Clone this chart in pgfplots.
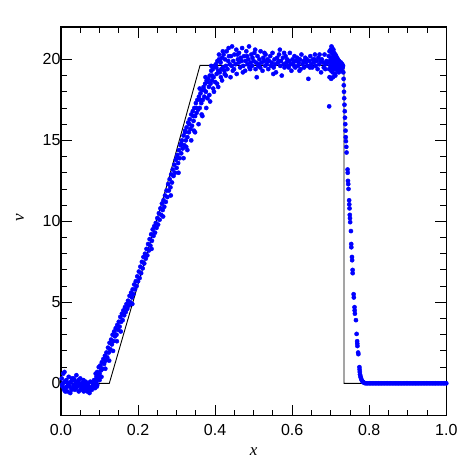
\documentclass[border=0pt]{standalone}
\usepackage{pgfplots}
\pgfplotsset{compat=1.18}
\usepackage{fontspec}
\setmainfont{Liberation Sans}
\newfontfamily\seriffont{Liberation Serif}
\definecolor{ptblue}{RGB}{0,0,255}
\begin{document}
\begin{tikzpicture}
\path[use as bounding box] (0,0) rectangle (472pt,472pt);
\begin{axis}[
 at={(61pt,56.3pt)}, anchor=south west,
 scale only axis, width=385.3pt, height=388.7pt,
 xmin=0, xmax=1, ymin=-2, ymax=22,
 xtick={0,0.2,0.4,0.6,0.8,1}, ytick={0,5,10,15,20},
 minor x tick num=3, minor y tick num=4,
 tick align=inside, major tick length=11pt, minor tick length=6pt,
 xticklabel style={/pgf/number format/fixed, /pgf/number format/fixed zerofill, /pgf/number format/precision=1, yshift=-5pt},
 yticklabel style={xshift=3pt},
 /pgf/number format/assume math mode=true,
 ticklabel style={font=\fontsize{16}{18}\selectfont},
 xlabel={\seriffont\itshape x}, ylabel={\seriffont\itshape v},
 label style={font=\fontsize{17}{19}\selectfont},
 xlabel style={at={(axis description cs:0.5,-0.093)}, anchor=center},
 ylabel style={at={(axis description cs:-0.106,0.51)}, anchor=center},
 axis line style={line width=1.2pt},
 every tick/.style={black, line width=0.9pt},
]
\addplot[black, line width=0.9pt] coordinates {(0,0) (0.1254,0) (0.2777,12.47) (0.3608,19.63) (0.7345,19.63) (0.7345,0) (1,0)};
\addplot[only marks, mark=*, mark size=2.1pt, mark options={draw=ptblue, fill=ptblue}] table {
x y
0.002 0.3
0.004 -0.2
0.006 0.6
0.008 -0.4
0.010 0.1
0.012 -0.3
0.014 0.2
0.016 -0.5
0.018 0.0
0.020 0.4
0.022 -0.2
0.024 -0.6
0.026 0.1
0.028 0.3
0.030 -0.3
0.032 -0.1
0.034 0.2
0.036 -0.4
0.038 0.0
0.040 0.5
0.042 -0.2
0.044 0.1
0.046 -0.5
0.048 -0.1
0.050 0.3
0.052 -0.3
0.054 0.0
0.056 -0.2
0.058 0.2
0.060 -0.4
0.062 -0.1
0.064 0.1
0.066 -0.3
0.068 -0.5
0.070 0.0
0.072 -0.2
0.074 -0.6
0.076 0.1
0.078 -0.3
0.080 -0.4
0.082 0.0
0.084 -0.2
0.086 0.2
0.088 -0.3
0.090 0.1
0.092 0.4
0.094 -0.1
0.096 0.3
0.098 0.6
0.100 0.2
0.003 -0.1
0.009 0.7
0.015 -0.2
0.021 0.0
0.027 -0.4
0.033 0.3
0.039 -0.3
0.045 0.2
0.051 -0.4
0.057 0.0
0.063 -0.3
0.069 -0.1
0.075 -0.4
0.081 -0.2
0.087 0.0
0.093 -0.2
0.005 0.0
0.011 -0.5
0.035 -0.2
0.047 0.0
0.059 -0.5
0.071 -0.3
0.083 0.1
0.088 0.2
0.090 0.6
0.092 0.1
0.094 0.7
0.096 0.4
0.098 1.0
0.100 0.6
0.102 1.1
0.104 0.8
0.106 1.3
0.108 0.9
0.110 1.5
0.112 1.2
0.114 1.7
0.116 1.4
0.118 1.9
0.120 1.6
0.122 2.2
0.124 1.9
0.126 2.5
0.128 2.1
0.130 2.7
0.132 2.4
0.134 3.0
0.136 2.6
0.138 3.2
0.140 2.9
0.142 3.4
0.144 3.0
0.146 3.6
0.148 3.3
0.150 3.8
0.152 3.5
0.154 4.1
0.156 3.8
0.158 4.3
0.160 3.9
0.162 4.5
0.164 4.2
0.166 4.7
0.168 4.4
0.170 4.9
0.172 4.6
0.174 5.1
0.176 4.8
0.178 5.4
0.180 5.0
0.182 5.6
0.184 5.3
0.186 5.8
0.188 5.5
0.190 6.1
0.192 5.8
0.194 6.3
0.196 6.0
0.198 6.6
0.200 6.3
0.202 6.9
0.204 6.5
0.206 7.2
0.208 6.8
0.210 7.5
0.212 7.1
0.214 7.8
0.216 7.4
0.218 8.0
0.220 7.7
0.222 8.3
0.224 7.9
0.226 8.6
0.228 8.2
0.230 8.9
0.232 8.5
0.234 9.2
0.236 8.8
0.238 9.5
0.240 9.1
0.242 9.7
0.244 9.3
0.246 9.9
0.248 9.6
0.250 10.2
0.252 9.8
0.254 10.5
0.256 10.1
0.258 10.8
0.260 10.4
0.262 11.1
0.264 10.7
0.266 11.3
0.268 10.9
0.270 11.6
0.272 11.2
0.274 11.9
0.276 11.5
0.278 12.3
0.280 11.9
0.282 12.6
0.284 12.1
0.286 12.9
0.288 12.4
0.290 13.2
0.292 12.8
0.294 13.5
0.296 13.0
0.298 13.8
0.300 13.3
0.302 14.1
0.304 13.6
0.306 14.4
0.308 13.9
0.310 14.7
0.312 14.2
0.314 15.0
0.316 14.5
0.318 15.3
0.320 14.7
0.322 15.6
0.324 15.0
0.326 15.8
0.328 15.2
0.330 16.1
0.332 15.5
0.334 16.3
0.336 15.7
0.338 16.6
0.340 15.9
0.342 16.8
0.344 16.2
0.346 17.0
0.348 16.5
0.350 17.3
0.352 16.7
0.354 17.5
0.356 16.9
0.358 17.7
0.360 17.0
0.362 17.9
0.364 17.3
0.366 18.1
0.368 17.5
0.370 18.3
0.372 17.7
0.374 18.5
0.376 18.0
0.378 18.7
0.380 17.6
0.382 18.8
0.384 18.3
0.386 19.0
0.388 18.5
0.390 19.3
0.392 18.7
0.394 19.4
0.396 18.9
0.398 19.6
0.400 18.6
0.402 19.7
0.404 19.1
0.406 19.9
0.408 19.3
0.410 20.0
0.412 19.2
0.414 19.8
0.416 19.4
0.418 20.1
0.420 19.5
0.422 20.3
0.424 19.3
0.426 20.0
0.428 19.6
0.430 20.5
0.432 19.4
0.434 19.9
0.436 20.2
0.438 19.7
0.105 0.4
0.115 0.9
0.125 1.4
0.135 2.0
0.145 2.6
0.155 3.2
0.185 4.9
0.235 8.3
0.265 10.3
0.285 11.6
0.325 14.6
0.345 15.6
0.365 16.6
0.385 17.8
0.395 18.2
0.405 18.5
0.415 18.9
0.425 19.1
0.440 18.9
0.360 18.2
0.375 18.9
0.390 19.6
0.410 20.3
0.420 20.5
0.435 20.7
0.300 13.9
0.305 13.0
0.312 14.8
0.318 13.9
0.322 15.5
0.328 14.4
0.333 16.0
0.338 15.0
0.343 16.5
0.348 15.5
0.352 17.0
0.357 16.0
0.362 17.5
0.367 16.5
0.372 18.1
0.377 17.0
0.382 18.6
0.387 17.4
0.392 19.0
0.397 18.0
0.403 19.5
0.408 18.3
0.413 19.9
0.418 18.7
0.428 19.0
0.441 20.2
0.443 19.6
0.444 20.8
0.447 19.9
0.449 19.4
0.450 20.3
0.453 19.7
0.455 20.6
0.456 19.1
0.459 20.0
0.461 19.8
0.462 20.4
0.465 19.5
0.467 20.1
0.469 19.9
0.470 20.7
0.473 19.6
0.475 20.2
0.478 19.3
0.479 19.9
0.481 20.5
0.484 19.7
0.486 20.0
0.488 20.8
0.489 19.5
0.492 19.8
0.494 20.3
0.496 19.6
0.497 20.1
0.500 19.9
0.502 20.4
0.505 19.4
0.506 19.8
0.508 18.9
0.510 20.2
0.513 19.7
0.515 20.0
0.517 19.5
0.518 20.5
0.521 19.8
0.523 19.3
0.525 20.1
0.527 19.9
0.530 19.6
0.531 20.3
0.534 19.7
0.536 20.0
0.538 19.4
0.540 19.9
0.543 20.2
0.545 19.6
0.547 19.8
0.549 20.4
0.552 19.5
0.554 20.0
0.556 19.7
0.558 19.2
0.561 20.1
0.563 19.8
0.566 20.3
0.568 20.6
0.569 19.6
0.571 19.9
0.573 19.0
0.576 20.1
0.578 19.7
0.580 19.5
0.583 20.2
0.585 19.8
0.587 20.0
0.589 19.6
0.592 19.9
0.594 20.4
0.596 19.7
0.598 19.3
0.601 20.0
0.603 19.8
0.606 20.2
0.608 19.5
0.610 19.9
0.613 20.1
0.615 19.6
0.617 19.8
0.620 20.0
0.622 19.4
0.624 20.3
0.627 19.7
0.629 19.9
0.631 19.5
0.634 20.1
0.636 19.8
0.638 20.0
0.640 19.6
0.642 18.8
0.645 19.9
0.647 20.2
0.649 19.7
0.652 19.5
0.654 20.0
0.656 19.8
0.659 20.3
0.661 19.6
0.663 19.9
0.666 19.4
0.668 20.1
0.670 19.7
0.673 19.9
0.675 19.2
0.677 20.0
0.680 19.8
0.682 19.5
0.684 20.3
0.687 19.7
0.689 19.9
0.446 19.3
0.458 20.3
0.472 19.2
0.483 20.2
0.491 19.4
0.504 20.6
0.512 19.6
0.528 20.4
0.537 19.9
0.551 19.1
0.565 19.9
0.579 20.4
0.591 19.5
0.605 19.6
0.619 19.3
0.633 19.9
0.646 19.5
0.658 20.0
0.671 20.3
0.686 19.4
0.693 19.8
0.695 20.2
0.696 19.4
0.697 20.5
0.698 19.9
0.699 19.6
0.700 20.6
0.700 20.1
0.701 19.3
0.702 20.8
0.702 19.8
0.703 20.4
0.703 19.5
0.704 20.7
0.704 20.0
0.705 19.2
0.705 20.5
0.706 19.9
0.706 20.3
0.707 19.6
0.707 20.6
0.708 20.1
0.708 19.4
0.709 20.4
0.709 19.8
0.710 20.2
0.710 19.5
0.711 20.0
0.711 19.1
0.712 20.3
0.712 19.7
0.713 19.9
0.714 20.2
0.714 19.4
0.715 19.8
0.716 20.1
0.716 19.6
0.717 19.3
0.718 19.9
0.719 20.0
0.719 19.5
0.720 19.8
0.721 19.2
0.722 19.9
0.722 19.6
0.723 19.4
0.724 19.8
0.725 19.7
0.726 19.5
0.727 19.8
0.728 19.6
0.729 19.3
0.730 19.7
0.731 19.5
0.732 19.6
0.697 18.9
0.701 18.8
0.706 18.9
0.712 19.0
0.696 17.1
0.7327 19.2
0.7335 18.8
0.7340 18.4
0.7345 18.0
0.7350 17.6
0.7357 17.2
0.7365 16.8
0.7370 16.4
0.7378 16.0
0.7385 15.6
0.7390 15.2
0.7395 14.95
0.7405 14.6
0.7412 14.25
0.7438 13.2
0.7442 13.0
0.7448 12.5
0.7455 12.3
0.7462 12.0
0.7478 11.3
0.7482 11.05
0.7488 10.8
0.7495 10.4
0.7500 10.2
0.7505 9.95
0.7525 9.4
0.7532 8.6
0.7535 8.4
0.7552 7.8
0.7556 7.6
0.7568 7.0
0.7570 6.8
0.7595 5.5
0.7600 5.3
0.7618 4.7
0.7622 4.5
0.7628 4.3
0.7655 3.9
0.7672 3.05
0.7686 2.6
0.7690 2.45
0.7694 2.3
0.7712 1.9
0.7718 1.8
0.7745 1.0
0.7750 0.85
0.7755 0.7
0.7760 0.55
0.7770 0.45
0.7780 0.35
0.7795 0.25
0.7810 0.17
0.7830 0.1
0.7850 0.06
0.7870 0.03
0.7890 0.01
0.792 0
0.796 0
0.800 0
0.804 0
0.808 0
0.812 0
0.816 0
0.820 0
0.824 0
0.828 0
0.832 0
0.836 0
0.840 0
0.844 0
0.848 0
0.852 0
0.856 0
0.860 0
0.864 0
0.868 0
0.872 0
0.876 0
0.880 0
0.884 0
0.888 0
0.892 0
0.896 0
0.900 0
0.904 0
0.908 0
0.912 0
0.916 0
0.920 0
0.924 0
0.928 0
0.932 0
0.936 0
0.940 0
0.944 0
0.948 0
0.952 0
0.956 0
0.960 0
0.964 0
0.968 0
0.972 0
0.976 0
0.980 0
0.984 0
0.988 0
0.992 0
0.996 0
1.000 0
};
\end{axis}
\end{tikzpicture}
\end{document}
